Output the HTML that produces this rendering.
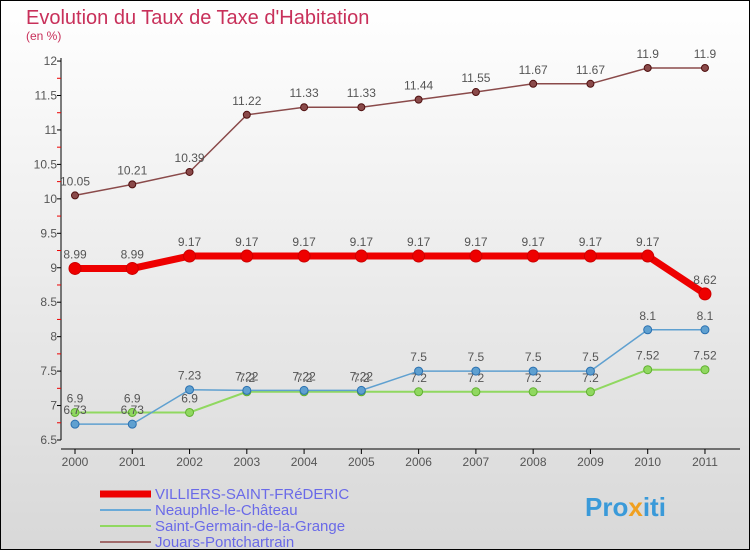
<!DOCTYPE html>
<html><head><meta charset="utf-8"><style>
html,body{margin:0;padding:0}
body{width:750px;height:550px;overflow:hidden;font-family:"Liberation Sans",sans-serif}
</style></head><body>
<svg width="750" height="550" xmlns="http://www.w3.org/2000/svg">
<defs><linearGradient id="bg" x1="0" y1="0" x2="0" y2="1"><stop offset="0" stop-color="#ffffff"/><stop offset="1" stop-color="#d8d8d8"/></linearGradient></defs>
<rect x="0.5" y="0.5" width="749" height="549" fill="url(#bg)" stroke="#000"/>
<text x="26" y="24" font-size="20" fill="#c8305a">Evolution du Taux de Taxe d'Habitation</text>
<text x="26" y="40" font-size="12" fill="#c8305a">(en %)</text>
<g id="axes"></g><g id="series"></g><g id="legend"></g>
<text x="585" y="516" font-size="26" font-weight="bold" fill="#3a9ad9">Pro<tspan fill="#f0a020">x</tspan>iti</text>
</svg>
<script>
const years=["2000","2001","2002","2003","2004","2005","2006","2007","2008","2009","2010","2011"];
const yTicks=[6.5,7,7.5,8,8.5,9,9.5,10,10.5,11,11.5,12];
const villiers=[8.99,8.99,9.17,9.17,9.17,9.17,9.17,9.17,9.17,9.17,9.17,8.62];
const neauphle=[6.73,6.73,7.23,7.22,7.22,7.22,7.5,7.5,7.5,7.5,8.1,8.1];
const stgermain=[6.9,6.9,6.9,7.2,7.2,7.2,7.2,7.2,7.2,7.2,7.52,7.52];
const jouars=[10.05,10.21,10.39,11.22,11.33,11.33,11.44,11.55,11.67,11.67,11.9,11.9];
const NS="http://www.w3.org/2000/svg";
const X=i=>75+i*57.27, Y=v=>440-(v-6.5)*68.9;
function mk(p,t,a){const e=document.createElementNS(NS,t);for(const k in a)e.setAttribute(k,a[k]);p.appendChild(e);return e;}
const ax=document.getElementById('axes');
let l=mk(ax,'line',{x1:61,y1:58,x2:61,y2:440,stroke:'#000'});


l=mk(ax,'line',{x1:61,y1:449,x2:740,y2:449,stroke:'#000'});


yTicks.forEach((v,i)=>{
 mk(ax,'line',{x1:57,y1:Y(v),x2:61,y2:Y(v),stroke:'#000'});
 if(i<yTicks.length-1) mk(ax,'line',{x1:57,y1:Y(v+0.25),x2:61,y2:Y(v+0.25),stroke:'#e00'});
 const t=mk(ax,'text',{x:57,y:Y(v)+4,'font-size':12,fill:'#555','text-anchor':'end'});
 t.textContent=String(v);
 
 
});
years.forEach((y,i)=>{
 mk(ax,'line',{x1:X(i),y1:449,x2:X(i),y2:454,stroke:'#000'});
 const t=mk(ax,'text',{x:X(i),y:466,'font-size':12,fill:'#555','text-anchor':'middle'});
 t.textContent=y;
 
 
});
const sg=document.getElementById('series');
function series(vals,color,w,r,name,dark){
 const g=mk(sg,'g',{});
 
 
 mk(g,'polyline',{points:vals.map((v,i)=>X(i)+','+Y(v)).join(' '),fill:'none',stroke:color,'stroke-width':w});
 vals.forEach((v,i)=>{
  const c=mk(g,'circle',{cx:X(i),cy:Y(v),r:r,fill:color,stroke:dark,'stroke-width':1});
  
  
  const t=mk(g,'text',{x:X(i),y:Y(v)-10,'font-size':12,fill:'#555','text-anchor':'middle'});
  t.textContent=String(v);
 });
}
series(stgermain,'#90d860',2,4,'series-saint-germain','#60b030');
series(neauphle,'#5fa0d0',1.5,4,'series-neauphle','#2a70b0');
series(jouars,'#8a4a4a',1.5,3.5,'series-jouars','#501010');
series(villiers,'#ee0000',7,6,'series-villiers','#cc0000');
const lg=document.getElementById('legend');
[["VILLIERS-SAINT-FRéDERIC","#ee0000",7],["Neauphle-le-Château","#6aaad8",2],["Saint-Germain-de-la-Grange","#90d860",2],["Jouars-Pontchartrain","#a06a6a",2]].forEach((d,i)=>{
 const g=mk(lg,'g',{});
 
 
 const y=493+i*16;
 mk(g,'line',{x1:100,y1:y+1,x2:151,y2:y+1,stroke:d[1],'stroke-width':d[2]});
 const t=mk(g,'text',{x:155,y:y+6,'font-size':15,fill:'#6a6ae8'});
 t.textContent=d[0];
});
</script>
</body></html>
